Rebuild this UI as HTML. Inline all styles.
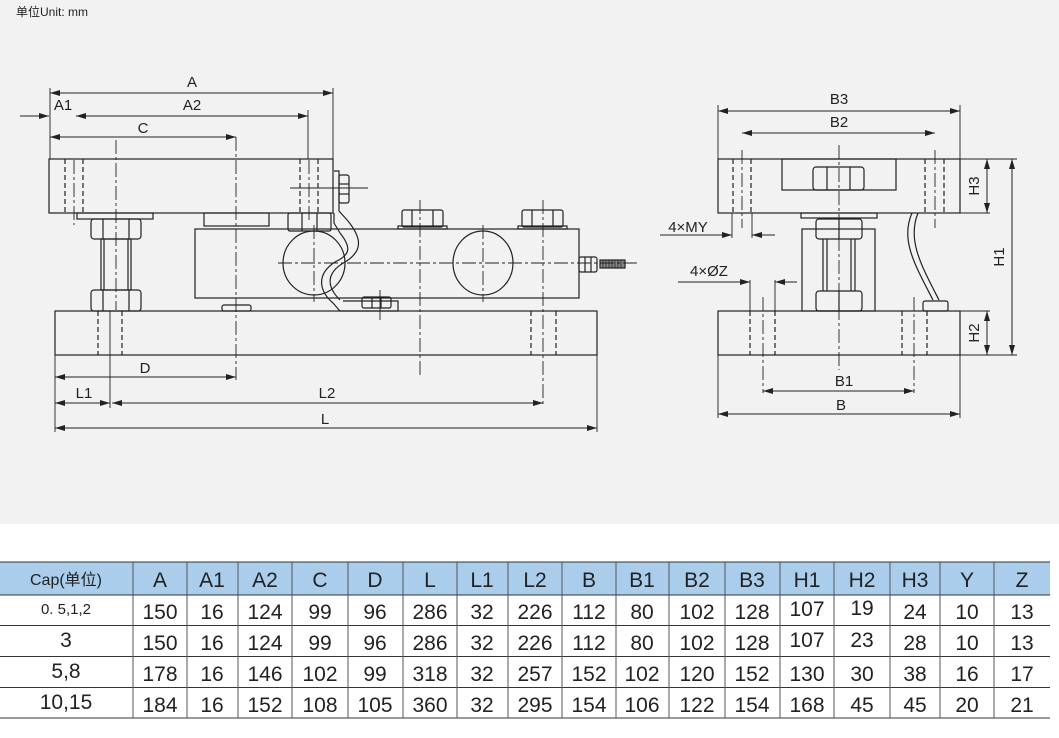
<!DOCTYPE html>
<html><head><meta charset="utf-8"><style>
html,body{margin:0;padding:0;background:#fff}
svg{display:block}
text{font-family:"Liberation Sans","Noto Sans CJK SC",sans-serif;fill:#222}
</style></head><body>
<svg width="1059" height="738" viewBox="0 0 1059 738" xmlns="http://www.w3.org/2000/svg">
<defs>
<marker id="ar" viewBox="0 0 10 6" refX="10" refY="3" markerWidth="10" markerHeight="6" orient="auto-start-reverse" markerUnits="userSpaceOnUse"><path d="M0,0 L10,3 L0,6 z" fill="#222"/></marker>
</defs>
<rect x="0" y="0" width="1059" height="524" fill="#f2f2f2"/>
<text x="16" y="16" font-size="12">单位Unit: mm</text>

<g stroke="#222" stroke-width="1.2" fill="none">
<rect x="49" y="159" width="284" height="54"/>
<rect x="77" y="213" width="76" height="6"/>
<rect x="204" y="213" width="65" height="13"/>
<rect x="288" y="213" width="43" height="18" rx="2"/>
<line x1="302" y1="213" x2="302" y2="231"/><line x1="317" y1="213" x2="317" y2="231"/>
<rect x="91" y="219" width="50" height="20" rx="3"/>
<line x1="103" y1="219" x2="103" y2="239"/><line x1="129" y1="219" x2="129" y2="239"/>
<rect x="101" y="239" width="30" height="51"/>
<line x1="104" y1="239" x2="104" y2="290"/><line x1="128" y1="239" x2="128" y2="290"/>
<rect x="91" y="290" width="50" height="21" rx="3"/>
<line x1="103" y1="290" x2="103" y2="311"/><line x1="129" y1="290" x2="129" y2="311"/>
<rect x="55" y="311" width="542" height="44"/>
<rect x="195" y="229" width="384" height="69"/>
<ellipse cx="314" cy="263" rx="31" ry="32"/>
<ellipse cx="483" cy="263" rx="30" ry="32"/>
<rect x="222" y="305" width="29" height="6" rx="2"/>
<rect x="402" y="210" width="41" height="17" rx="2"/><line x1="412" y1="210" x2="412" y2="227"/><line x1="433" y1="210" x2="433" y2="227"/>
<rect x="398" y="226" width="49" height="3"/>
<rect x="522" y="210" width="41" height="17" rx="2"/><line x1="532" y1="210" x2="532" y2="227"/><line x1="553" y1="210" x2="553" y2="227"/>
<rect x="518" y="226" width="49" height="3"/>
<path d="M334,171 L339,171 L339,211 L348,221"/>
<rect x="339" y="175" width="10" height="28" rx="2"/>
<line x1="339" y1="184" x2="349" y2="184"/><line x1="339" y1="194" x2="349" y2="194"/>
<path d="M334,213 L334,223 L340,233 M348,221 C360,236 365,250 345,262 C322,275 330,290 340,300 M340,233 C352,248 350,255 335,262 C315,275 320,292 333,303 L340,311 L398,311 L398,301 L343,301"/>
<rect x="362" y="297" width="29" height="11" rx="2"/><line x1="372" y1="297" x2="372" y2="308"/><line x1="381" y1="297" x2="381" y2="308"/>
<rect x="579" y="257" width="18" height="15" rx="2"/><line x1="585" y1="257" x2="585" y2="272"/><line x1="591" y1="257" x2="591" y2="272"/>
<rect x="600" y="260" width="25" height="8" fill="#888"/>
</g>
<g stroke="#222" stroke-width="0.8">
<line x1="603" y1="260" x2="603" y2="268"/><line x1="606" y1="260" x2="606" y2="268"/><line x1="609" y1="260" x2="609" y2="268"/><line x1="612" y1="260" x2="612" y2="268"/><line x1="615" y1="260" x2="615" y2="268"/><line x1="618" y1="260" x2="618" y2="268"/><line x1="621" y1="260" x2="621" y2="268"/>
</g>
<g stroke="#222" stroke-width="1.2" fill="none" stroke-dasharray="5,3">
<line x1="65" y1="159" x2="65" y2="213"/><line x1="83" y1="159" x2="83" y2="213"/>
<line x1="300" y1="159" x2="300" y2="213"/><line x1="318" y1="159" x2="318" y2="213"/>
<line x1="98" y1="311" x2="98" y2="355"/><line x1="122" y1="311" x2="122" y2="355"/>
<line x1="531" y1="311" x2="531" y2="355"/><line x1="556" y1="311" x2="556" y2="355"/>
</g>
<g stroke="#222" stroke-width="0.9" fill="none" stroke-dasharray="14,3,3,3">
<line x1="116" y1="140" x2="116" y2="310"/>
<line x1="236" y1="137" x2="236" y2="380"/>
<line x1="420" y1="200" x2="420" y2="375"/>
<line x1="543" y1="200" x2="543" y2="405"/>
<line x1="314" y1="225" x2="314" y2="302"/>
<line x1="483" y1="225" x2="483" y2="302"/>
<line x1="278" y1="263" x2="639" y2="263"/>
<line x1="309" y1="160" x2="309" y2="220"/>
<line x1="74" y1="160" x2="74" y2="225"/>
</g>
<g stroke="#222" stroke-width="0.9" fill="none">
<line x1="290" y1="188" x2="368" y2="188"/>
<line x1="380" y1="290" x2="380" y2="320"/>
<line x1="50" y1="88" x2="50" y2="159"/><line x1="333" y1="88" x2="333" y2="159"/>
<line x1="308" y1="110" x2="308" y2="159"/>
<line x1="55" y1="355" x2="55" y2="432"/><line x1="597" y1="355" x2="597" y2="432"/>
<line x1="110" y1="311" x2="110" y2="408"/>
</g>
<g stroke="#222" stroke-width="1" fill="none" marker-start="url(#ar)" marker-end="url(#ar)">
<line x1="50" y1="93" x2="333" y2="93"/>
<line x1="76" y1="116" x2="308" y2="116"/>
<line x1="50" y1="137" x2="236" y2="137"/>
<line x1="55" y1="377" x2="236" y2="377"/>
<line x1="55" y1="403" x2="110" y2="403"/>
<line x1="112" y1="403" x2="543" y2="403"/>
<line x1="55" y1="428" x2="597" y2="428"/>
</g>
<line x1="20" y1="116" x2="49" y2="116" stroke="#222" marker-end="url(#ar)"/>
<g font-size="15" text-anchor="middle">
<text x="192" y="87">A</text><text x="192" y="110">A2</text><text x="63" y="110">A1</text>
<text x="143" y="133">C</text><text x="145" y="373">D</text><text x="84" y="398">L1</text>
<text x="327" y="398">L2</text><text x="325" y="424">L</text>
</g>

<g stroke="#222" stroke-width="1.2" fill="none">
<rect x="718" y="159" width="242" height="54"/>
<rect x="782" y="159" width="114" height="31"/>
<rect x="813" y="167" width="51" height="23" rx="3"/><line x1="827" y1="167" x2="827" y2="190"/><line x1="850" y1="167" x2="850" y2="190"/>
<rect x="801" y="213" width="76" height="5"/>
<rect x="802" y="229" width="73" height="82"/>
<rect x="816" y="219" width="46" height="20" rx="3"/><line x1="839" y1="219" x2="839" y2="239"/>
<line x1="823" y1="239" x2="823" y2="291"/><line x1="855" y1="239" x2="855" y2="291"/>
<line x1="827" y1="239" x2="827" y2="291"/><line x1="851" y1="239" x2="851" y2="291"/>
<rect x="816" y="291" width="46" height="20" rx="3"/><line x1="839" y1="291" x2="839" y2="311"/>
<rect x="718" y="311" width="242" height="44"/>
<path d="M912,213 C900,240 915,265 933,300 M918,213 C907,240 921,265 939,300"/>
<rect x="923" y="301" width="25" height="10" rx="2"/>
</g>
<g stroke="#222" stroke-width="1.2" fill="none" stroke-dasharray="5,3">
<line x1="733" y1="159" x2="733" y2="213"/><line x1="751" y1="159" x2="751" y2="213"/>
<line x1="925" y1="159" x2="925" y2="213"/><line x1="944" y1="159" x2="944" y2="213"/>
<line x1="750" y1="311" x2="750" y2="355"/><line x1="775" y1="311" x2="775" y2="355"/>
<line x1="902" y1="311" x2="902" y2="355"/><line x1="927" y1="311" x2="927" y2="355"/>
</g>
<g stroke="#222" stroke-width="0.9" fill="none" stroke-dasharray="14,3,3,3">
<line x1="839" y1="145" x2="839" y2="370"/>
<line x1="742" y1="150" x2="742" y2="228"/><line x1="935" y1="150" x2="935" y2="228"/>
<line x1="763" y1="297" x2="763" y2="393"/><line x1="914" y1="297" x2="914" y2="393"/>
</g>
<g stroke="#222" stroke-width="0.9" fill="none">
<line x1="718" y1="105" x2="718" y2="159"/><line x1="960" y1="105" x2="960" y2="159"/>
<line x1="718" y1="355" x2="718" y2="418"/><line x1="960" y1="355" x2="960" y2="418"/>
<line x1="960" y1="159" x2="1017" y2="159"/><line x1="960" y1="213" x2="990" y2="213"/>
<line x1="960" y1="311" x2="990" y2="311"/><line x1="945" y1="355" x2="1017" y2="355"/>
<line x1="732" y1="213" x2="732" y2="238"/><line x1="752" y1="213" x2="752" y2="238"/>
<line x1="750" y1="280" x2="750" y2="311"/><line x1="775" y1="280" x2="775" y2="311"/>
<line x1="660" y1="235" x2="732" y2="235"/><line x1="678" y1="282" x2="750" y2="282"/>
</g>
<g stroke="#222" stroke-width="1" fill="none" marker-start="url(#ar)" marker-end="url(#ar)">
<line x1="718" y1="111" x2="960" y2="111"/>
<line x1="742" y1="133" x2="935" y2="133"/>
<line x1="763" y1="391" x2="914" y2="391"/>
<line x1="718" y1="414" x2="960" y2="414"/>
<line x1="987" y1="159" x2="987" y2="213"/>
<line x1="1012" y1="159" x2="1012" y2="355"/>
<line x1="987" y1="311" x2="987" y2="355"/>
</g>
<g stroke="#222" stroke-width="1" marker-end="url(#ar)">
<line x1="710" y1="235" x2="732" y2="235"/><line x1="775" y1="235" x2="752" y2="235"/>
<line x1="728" y1="282" x2="750" y2="282"/><line x1="797" y1="282" x2="775" y2="282"/>
</g>
<g font-size="15" text-anchor="middle">
<text x="839" y="104">B3</text><text x="839" y="127">B2</text>
<text x="844" y="386">B1</text><text x="841" y="410">B</text>
<text x="688" y="232">4×MY</text><text x="709" y="276">4×ØZ</text>
<text transform="translate(979,186) rotate(-90)">H3</text>
<text transform="translate(1004,257) rotate(-90)">H1</text>
<text transform="translate(979,333) rotate(-90)">H2</text>
</g>

<rect x="0" y="562" width="1050" height="33" fill="#a9cdeb"/>
<g stroke="#333" stroke-width="1">
<line x1="0" y1="562" x2="1050" y2="562"/>
<line x1="0" y1="595" x2="1050" y2="595"/>
<line x1="0" y1="625.5" x2="1050" y2="625.5"/>
<line x1="0" y1="656.5" x2="1050" y2="656.5"/>
<line x1="0" y1="687.5" x2="1050" y2="687.5"/>
<line x1="0" y1="718" x2="1050" y2="718"/>
</g>
<g stroke="#555" stroke-width="1">
<line x1="133" y1="562" x2="133" y2="718"/><line x1="187" y1="562" x2="187" y2="718"/>
<line x1="238" y1="562" x2="238" y2="718"/><line x1="292" y1="562" x2="292" y2="718"/>
<line x1="348" y1="562" x2="348" y2="718"/><line x1="403" y1="562" x2="403" y2="718"/>
<line x1="457" y1="562" x2="457" y2="718"/><line x1="508" y1="562" x2="508" y2="718"/>
<line x1="562" y1="562" x2="562" y2="718"/><line x1="616" y1="562" x2="616" y2="718"/>
<line x1="669" y1="562" x2="669" y2="718"/><line x1="725" y1="562" x2="725" y2="718"/>
<line x1="780" y1="562" x2="780" y2="718"/><line x1="834" y1="562" x2="834" y2="718"/>
<line x1="890" y1="562" x2="890" y2="718"/><line x1="940" y1="562" x2="940" y2="718"/>
<line x1="994" y1="562" x2="994" y2="718"/>
</g>
<g font-size="21" text-anchor="middle">
<text x="66" y="585" font-size="16">Cap(单位)</text>
<text x="160" y="587">A</text><text x="212" y="587">A1</text><text x="265" y="587">A2</text><text x="320" y="587">C</text><text x="375" y="587">D</text><text x="430" y="587">L</text><text x="482" y="587">L1</text><text x="535" y="587">L2</text><text x="589" y="587">B</text><text x="642" y="587">B1</text><text x="697" y="587">B2</text><text x="752" y="587">B3</text><text x="807" y="587">H1</text><text x="862" y="587">H2</text><text x="915" y="587">H3</text><text x="967" y="587">Y</text><text x="1022" y="587">Z</text>
<text x="66" y="614" font-size="15">0. 5,1,2</text>
<text x="160" y="619">150</text><text x="212" y="619">16</text><text x="265" y="619">124</text><text x="320" y="619">99</text><text x="375" y="619">96</text><text x="430" y="619">286</text><text x="482" y="619">32</text><text x="535" y="619">226</text><text x="589" y="619">112</text><text x="642" y="619">80</text><text x="697" y="619">102</text><text x="752" y="619">128</text><text x="807" y="616">107</text><text x="862" y="615">19</text><text x="915" y="619">24</text><text x="967" y="619">10</text><text x="1022" y="619">13</text>
<text x="66" y="647">3</text>
<text x="160" y="650">150</text><text x="212" y="650">16</text><text x="265" y="650">124</text><text x="320" y="650">99</text><text x="375" y="650">96</text><text x="430" y="650">286</text><text x="482" y="650">32</text><text x="535" y="650">226</text><text x="589" y="650">112</text><text x="642" y="650">80</text><text x="697" y="650">102</text><text x="752" y="650">128</text><text x="807" y="647">107</text><text x="862" y="647">23</text><text x="915" y="650">28</text><text x="967" y="650">10</text><text x="1022" y="650">13</text>
<text x="66" y="678">5,8</text>
<text x="160" y="681">178</text><text x="212" y="681">16</text><text x="265" y="681">146</text><text x="320" y="681">102</text><text x="375" y="681">99</text><text x="430" y="681">318</text><text x="482" y="681">32</text><text x="535" y="681">257</text><text x="589" y="681">152</text><text x="642" y="681">102</text><text x="697" y="681">120</text><text x="752" y="681">152</text><text x="807" y="681">130</text><text x="862" y="681">30</text><text x="915" y="681">38</text><text x="967" y="681">16</text><text x="1022" y="681">17</text>
<text x="66" y="709">10,15</text>
<text x="160" y="712">184</text><text x="212" y="712">16</text><text x="265" y="712">152</text><text x="320" y="712">108</text><text x="375" y="712">105</text><text x="430" y="712">360</text><text x="482" y="712">32</text><text x="535" y="712">295</text><text x="589" y="712">154</text><text x="642" y="712">106</text><text x="697" y="712">122</text><text x="752" y="712">154</text><text x="807" y="712">168</text><text x="862" y="712">45</text><text x="915" y="712">45</text><text x="967" y="712">20</text><text x="1022" y="712">21</text>
</g>
</svg>
</body></html>
